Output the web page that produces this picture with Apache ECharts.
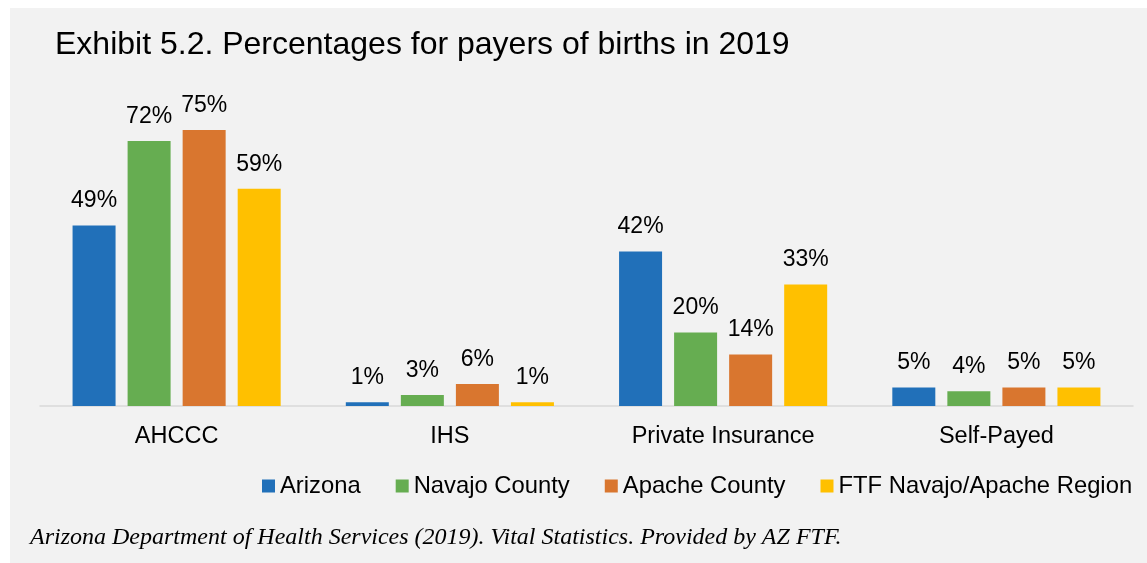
<!DOCTYPE html>
<html>
<head>
<meta charset="utf-8">
<style>
  html, body { margin: 0; padding: 0; background: #ffffff; }
  #chart { position: absolute; left: 10px; top: 8px; width: 1137px; height: 555px; background: #f2f2f2; }
</style>
<script src="https://cdn.jsdelivr.net/npm/echarts@6/dist/echarts.min.js"></script>
</head>
<body>
<div id="chart"></div>
<script>
const categories = ['AHCCC', 'IHS', 'Private Insurance', 'Self-Payed']
const seriesNames = ['Arizona', 'Navajo County', 'Apache County', 'FTF Navajo/Apache Region']
const arizona = [49, 1, 42, 5]
const navajoCounty = [72, 3, 20, 4]
const apacheCounty = [75, 6, 14, 5]
const ftfRegion = [59, 1, 33, 5]
const colors = ['#2170b9', '#66ad51', '#d9762f', '#ffc000']

const chart = echarts.init(document.getElementById('chart'))
const values = [arizona, navajoCounty, apacheCounty, ftfRegion]
const font = 'Liberation Sans, Arial'

chart.setOption({
  animation: false,
  title: [
    {
      text: 'Exhibit 5.2. Percentages for payers of births in 2019',
      left: 40,
      top: 16,
      textStyle: { fontFamily: font, fontSize: 32, fontWeight: 'normal', color: '#000' }
    },
    {
      text: 'Arizona Department of Health Services (2019). Vital Statistics. Provided by AZ FTF.',
      left: 15,
      top: 513,
      textStyle: { fontFamily: 'Liberation Serif, Times New Roman', fontSize: 24, fontStyle: 'italic', fontWeight: 'normal', color: '#000' }
    }
  ],
  legend: {
    left: 247,
    top: 461,
    itemWidth: 13,
    itemHeight: 13,
    itemGap: 35,
    icon: 'rect',
    textStyle: { fontFamily: font, fontSize: 23.8, color: '#000' },
    data: seriesNames
  },
  grid: { left: 30, right: 14, top: 103.5, bottom: 157 },
  xAxis: {
    type: 'category',
    data: categories,
    axisTick: { show: false },
    axisLine: { lineStyle: { color: '#d9d9d9', width: 1.5 } },
    axisLabel: { fontFamily: font, fontSize: 23.5, color: '#000', margin: 19 }
  },
  yAxis: {
    type: 'value',
    min: 0,
    max: 80,
    show: false,
    splitLine: { show: false }
  },
  series: seriesNames.map((name, i) => ({
    name,
    type: 'bar',
    data: values[i],
    barWidth: 43,
    barGap: '28%',
    itemStyle: { color: colors[i] },
    label: {
      show: true,
      position: 'top',
      distance: 13,
      formatter: '{c}%',
      fontFamily: font,
      fontSize: 23,
      color: '#000'
    }
  }))
})
</script>
</body>
</html>
